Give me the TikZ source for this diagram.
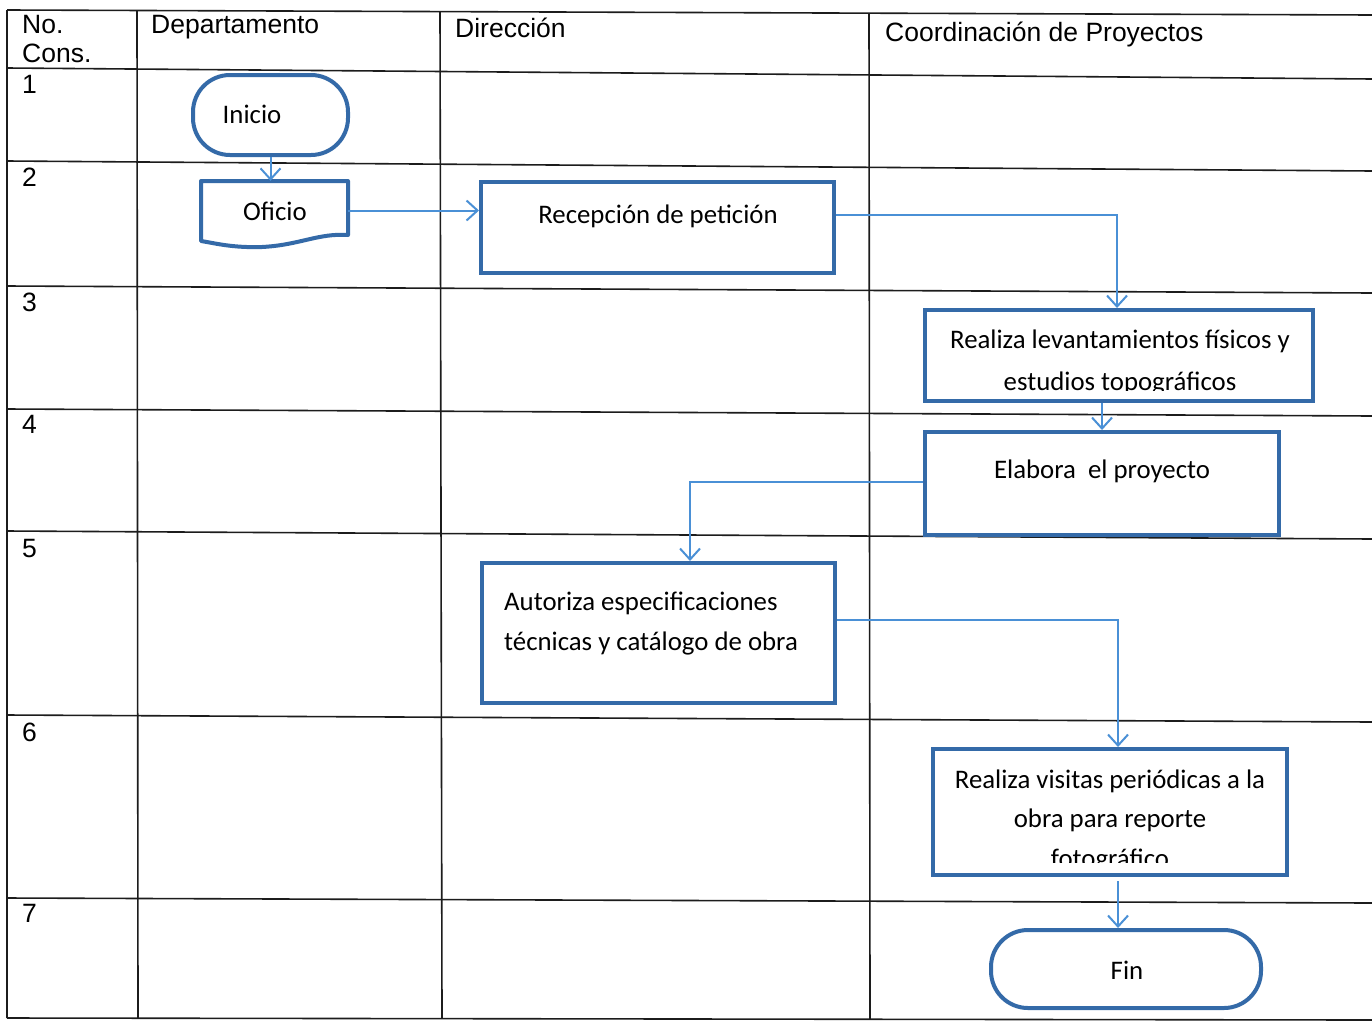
\documentclass[tikz,border=0pt]{standalone}
\usepackage{fontspec}
\setmainfont{Liberation Sans}
\newfontfamily\boxfont{Carlito}
\usetikzlibrary{arrows.meta}

\definecolor{boxblue}{RGB}{52,106,168}
\definecolor{linkblue}{RGB}{74,144,214}
\definecolor{rulegray}{RGB}{28,28,28}

\begin{document}
\begin{tikzpicture}[x=1pt,y=-1pt,
  grid/.style={draw=rulegray, line width=1.6pt},
  head/.style={anchor=base west, inner sep=0pt, font=\fontsize{26.5}{29}\selectfont},
  procbox/.style={draw=boxblue, line width=4pt, rectangle, inner sep=0pt},
  term/.style={procbox, rounded corners=37pt},
  boxtext/.style={anchor=base, inner sep=0pt, font=\boxfont\fontsize{26.8}{40}\selectfont},
  link/.style={draw=linkblue, line width=2pt, -{Straight Barb[length=11pt,width=20pt]}},
]
\useasboundingbox (0,0) rectangle (1372,1020);
\fill[white] (0,0) rectangle (1372,1020);

% ---- table grid ----
\draw[grid] (7,10) -- (1372,15);
\draw[grid] (7,68) -- (1372,79);
\draw[grid] (7,161) -- (1372,171);
\draw[grid] (7,286) -- (1372,293);
\draw[grid] (7,409) -- (1372,416);
\draw[grid] (7,531) -- (1372,539);
\draw[grid] (7,715) -- (1372,722);
\draw[grid] (7,898) -- (1372,903);
\draw[grid] (7,1018) -- (1372,1020);
\draw[grid] (7,10) -- (7,1018);
\draw[grid] (137,10) -- (138,1018);
\draw[grid] (440,12) -- (442,1018);
\draw[grid] (869,13) -- (870,1019);

% ---- headers ----
\node[head] (hno) at (22,33) {No.};
\node[head] (hcons) at (22,62) {Cons.};
\node[head] (hdep) at (151,33) {Departamento};
\node[head] (hdir) at (455,37) {Dirección};
\node[head] (hcoord) at (885,41) {Coordinación de Proyectos};

% ---- row numbers ----
\node[head] (n1) at (22,93) {1};
\node[head] (n2) at (22,186) {2};
\node[head] (n3) at (22,311) {3};
\node[head] (n4) at (22,433) {4};
\node[head] (n5) at (22,557) {5};
\node[head] (n6) at (22,741) {6};
\node[head] (n7) at (22,922) {7};

% ---- flow shapes ----
\node[term, minimum width=155pt, minimum height=80pt] (inicio) at (270.5,115) {};
\node[boxtext] (tinicio) at (252,123) {Inicio};

% document symbol
\draw[draw=boxblue, line width=4pt, line join=round]
  (201,181) -- (348,181) -- (348,235)
  .. controls (318,233) and (300,245) .. (262,247)
  .. controls (232,248) and (214,243) .. (201,241) -- cycle;
\node[inner sep=0pt, minimum width=147pt, minimum height=59pt] (oficio) at (274.5,210.5) {};
\node[boxtext] (toficio) at (275,220) {Oficio};

\node[procbox, minimum width=353pt, minimum height=91pt] (recep) at (657.5,227.5) {};
\node[boxtext] (trecep) at (658,223) {Recepción de petición};

\node[procbox, minimum width=388pt, minimum height=91pt] (levant) at (1119,355.5) {};
\begin{scope}
  \clip (927,312) rectangle (1311,390.5);
  \node[boxtext] (tlevanta) at (1120,348) {Realiza levantamientos físicos y};
  \node[boxtext] (tlevantb) at (1120,390) {estudios topográficos};
\end{scope}

\node[procbox, minimum width=354pt, minimum height=103pt] (elabora) at (1102,483.5) {};
\node[boxtext] (telabora) at (1102,478) {Elabora\ \ el proyecto};

\node[procbox, minimum width=353pt, minimum height=140pt] (autoriza) at (658.5,633) {};
\node[boxtext, anchor=base west] (tautoa) at (504,610) {Autoriza especificaciones};
\node[boxtext, anchor=base west] (tautob) at (504,650) {técnicas y catálogo de obra};

\node[procbox, minimum width=354pt, minimum height=126pt] (visitas) at (1110,812) {};
\begin{scope}
  \clip (935,751) rectangle (1285,862);
  \node[boxtext] (tvisa) at (1110,788) {Realiza visitas periódicas a la};
  \node[boxtext] (tvisb) at (1110,827) {obra para reporte};
  \node[boxtext] (tvisc) at (1110,867) {fotográfico};
\end{scope}

\node[term, minimum width=270pt, minimum height=78pt] (fin) at (1126,969) {};
\node[boxtext] (tfin) at (1127,979) {Fin};

% ---- connectors ----
\draw[link] (inicio.south) -- (inicio.south |- oficio.north);
\draw[link] (oficio.east) -- (oficio.east -| recep.west);
\draw[link] ([yshift=13pt]recep.east) -| ([xshift=-2pt]levant.north);
\draw[link] (elabora.north |- levant.south) -- (elabora.north);
\draw[link] ([yshift=2pt]elabora.west) -| ([xshift=31.5pt]autoriza.north);
\draw[link] ([yshift=13pt]autoriza.east) -| ([xshift=8pt]visitas.north);
\draw[link] ([xshift=8pt,yshift=-4pt]visitas.south) -- ([xshift=8pt]visitas.south |- fin.north);
\end{tikzpicture}
\end{document}
